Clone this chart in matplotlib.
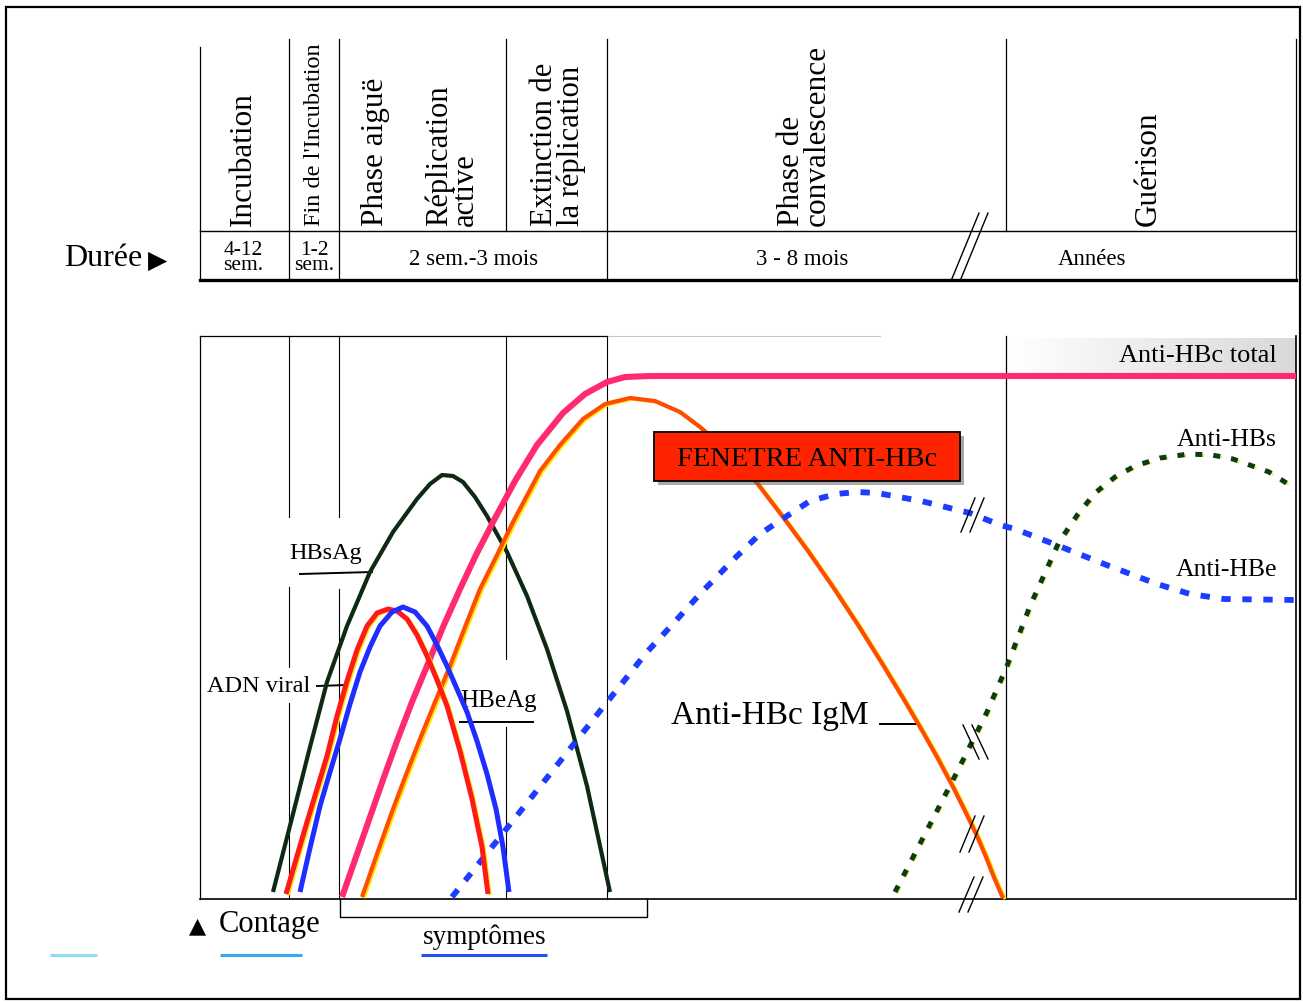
import matplotlib
matplotlib.use("Agg")
import numpy as np
import matplotlib.pyplot as plt
import matplotlib.patheffects as pe
from matplotlib.patches import Rectangle
from matplotlib.colors import LinearSegmentedColormap

plt.rcParams['font.family'] = ['Liberation Serif', 'DejaVu Sans']

# diagram units = position on the original schematic (x: time, y: level from top)
# column borders of the phases
phase_edges = [200, 289, 339, 506, 607, 1006, 1296]

# phase names (rotated headers) and their centres
phase_names = ["Incubation", "Fin de l'Incubation", "Phase aiguë",
               "Réplication\nactive", "Extinction de\nla réplication",
               "Phase de\nconvalescence", "Guérison"]
phase_centres = [243, 315, 376, 452, 558, 804, 1148]
phase_sizes = [22.5, 17.5, 22.5, 22, 22, 22.5, 22.5]

# durations row
duree_labels = ["4-12\nsem.", "1-2\nsem.", "2 sem.-3 mois", "3 - 8 mois", "Années"]
duree_centres = [243, 314, 474, 802, 1092]

hbsag_x = [273, 293, 310, 327, 347, 370, 393, 417, 430, 442, 453, 463, 475, 487, 507, 527,
           547, 567, 587, 610]
hbsag_y = [893, 815, 748, 683, 627, 573, 533, 500, 485, 476, 477, 483, 498, 517, 553, 597,
           650, 712, 787, 893]

adn_x = [286, 297, 307, 317, 327, 337, 347, 357, 367, 377, 388, 397, 407, 417, 427, 437,
         447, 460, 472, 482, 488]
adn_y = [895, 857, 823, 790, 757, 717, 682, 651, 627, 614, 610, 612, 620, 636, 657, 681,
         707, 752, 800, 848, 895]

hbeag_x = [300, 310, 320, 330, 340, 350, 360, 370, 380, 392, 403, 415, 427, 437, 447, 457,
           467, 477, 487, 496, 503, 509]
hbeag_y = [893, 849, 807, 773, 740, 705, 673, 648, 627, 613, 608, 613, 627, 646, 667, 690,
           713, 742, 775, 810, 848, 893]

total_x = [342, 356, 370, 384, 397, 412, 427, 443, 460, 476, 493, 515, 537, 563, 585, 607,
           625, 650, 1296]
total_y = [898, 858, 818, 778, 742, 703, 667, 628, 590, 556, 523, 482, 446, 414, 395, 383,
           378, 377, 377]

igm_x = [362, 378, 393, 407, 420, 435, 450, 465, 480, 497, 513, 540, 560, 583, 605, 630,
         655, 680, 700, 730, 757, 783, 808, 833, 858, 883, 903, 920, 937, 953, 966, 977,
         986, 993, 999, 1003]
igm_y = [898, 852, 810, 773, 740, 703, 667, 628, 590, 556, 523, 472, 446, 420, 405, 399,
         402, 413, 428, 454, 484, 518, 552, 588, 626, 666, 699, 728, 758, 788, 814, 837,
         858, 876, 890, 899]

antihbe_x = [452, 500, 550, 600, 647, 671, 700, 734, 760, 787, 810, 836, 857, 877, 921, 970,
             1000, 1015, 1059, 1104, 1157, 1190, 1224, 1296]
antihbe_y = [898, 838, 775, 712, 653, 627, 595, 560, 535, 517, 502, 495, 493, 494, 502, 514,
             526, 530, 547, 565, 585, 595, 600, 601]

antihbs_x = [895, 925, 957, 987, 1007, 1030, 1059, 1078, 1095, 1115, 1135, 1160, 1189,
             1212, 1233, 1269, 1296]
antihbs_y = [893, 835, 773, 713, 667, 607, 543, 515, 494, 478, 467, 459, 455, 456, 460,
             473, 490]

fig = plt.figure(figsize=(13.03, 10.03), dpi=100)
ax = fig.add_axes([0, 0, 1, 1])
ax.set_xlim(0, 1303)
ax.set_ylim(1003, 0)
ax.axis('off')

k = 'black'
# outer frame
ax.add_patch(Rectangle((6, 8), 1294, 992, fill=False, ec=k, lw=1.6))

# ---- header ----
for x in phase_edges:
    top = 48 if x == 200 else 40
    bottom = 232 if x in (506, 1006) else 281
    ax.plot([x, x], [top, bottom], color=k, lw=0.9)
ax.plot([200, 1296], [232, 232], color=k, lw=1.0)
ax.plot([200, 1296], [281, 281], color=k, lw=2.4)

for name, xc, fs in zip(phase_names, phase_centres, phase_sizes):
    ax.text(xc, 226, name, rotation=90, ha='center', va='bottom', fontsize=fs,
            multialignment='left', linespacing=0.85)

for lab, xc in zip(duree_labels, duree_centres):
    two = '\n' in lab
    ax.text(xc, 258 if two else 259, lab, ha='center', va='center',
            fontsize=15.5 if two else 16.5, linespacing=0.72)

ax.text(64, 258, "Durée", ha='left', va='center', fontsize=23)
ax.text(148, 261, "▶", ha='left', va='center', fontsize=18, family='DejaVu Sans')

# break marks in header
for dx in (0, 9):
    ax.plot([951 + dx, 979 + dx], [282, 214], color=k, lw=1.0)

# ---- lower panel ----
ax.plot([200, 607], [337, 337], color=k, lw=0.9)
ax.plot([607, 880], [337, 337], color='#c8c8c8', lw=0.8)
ax.plot([200, 1296], [900, 900], color=k, lw=1.2)
ax.plot([200, 200], [337, 900], color=k, lw=0.9)
ax.plot([1296, 1296], [337, 900], color=k, lw=1.2)
# inner phase borders, with gaps where labels sit
ax.plot([289, 289], [337, 518], color=k, lw=0.8)
ax.plot([289, 289], [588, 668], color=k, lw=0.8)
ax.plot([289, 289], [704, 900], color=k, lw=0.8)
ax.plot([339, 339], [337, 518], color=k, lw=0.8)
ax.plot([339, 339], [590, 900], color=k, lw=0.8)
ax.plot([506, 506], [337, 660], color=k, lw=0.8)
ax.plot([506, 506], [728, 900], color=k, lw=0.8)
ax.plot([607, 607], [337, 900], color=k, lw=0.8)
ax.plot([1006, 1006], [337, 900], color=k, lw=0.9)

# grey band behind "Anti-HBc total"
grey = LinearSegmentedColormap.from_list('g', ['#ffffff', '#d9d9d9'])
ax.imshow(np.linspace(0, 1, 64)[None, :], extent=(1008, 1296, 374, 339),
          cmap=grey, aspect='auto', zorder=0.5)
ax.set_xlim(0, 1303)
ax.set_ylim(1003, 0)

yellow_edge = [pe.Stroke(linewidth=2.2, foreground='#ffe600', offset=(1.6, -0.8)), pe.Normal()]
curve = dict(solid_capstyle='butt', solid_joinstyle='round')

ax.plot(hbsag_x, hbsag_y, color='#0f2a14', lw=3.0, zorder=3, **curve)
ax.plot(total_x, total_y, color='#ff2b6e', lw=4.4, zorder=3, **curve)
ax.plot(igm_x, igm_y, color='#ff4d00', lw=3.0, zorder=3, path_effects=yellow_edge, **curve)
ax.plot(adn_x, adn_y, color='#ff1a1a', lw=3.6, zorder=4, path_effects=yellow_edge, **curve)
ax.plot(hbeag_x, hbeag_y, color='#1f2dff', lw=3.6, zorder=4, **curve)
ax.plot(antihbe_x, antihbe_y, color='#1c3cff', lw=4.2, dashes=(1.6, 2.0),
        dash_capstyle='butt', zorder=3)
ax.plot(antihbs_x, antihbs_y, color='#0d3b12', lw=3.6, dashes=(1.4, 2.2),
        dash_capstyle='butt', zorder=3,
        path_effects=[pe.Stroke(linewidth=2, foreground='#e8f060', offset=(1.4, -0.8)),
                      pe.Normal()])

# break marks in the panel
breaks = [((961, 533), (975, 499)), ((960, 853), (975, 817)), ((959, 913), (974, 878))]
for (x0, y0), (x1, y1) in breaks:
    for dx in (0, 9):
        ax.plot([x0 + dx, x1 + dx], [y0, y1], color=k, lw=1.0, zorder=5)
for dx in (0, 9):
    ax.plot([963 + dx, 979 + dx], [726, 760], color=k, lw=1.0, zorder=5)

# labels and leader lines
ax.text(289, 553, "HBsAg", ha='left', va='center', fontsize=17.5)
ax.plot([300, 372], [575, 573], color=k, lw=1.4)
ax.text(207, 686, "ADN viral", ha='left', va='center', fontsize=17.5)
ax.plot([317, 347], [687, 686], color=k, lw=1.4)
ax.text(460, 701, "HBeAg", ha='left', va='center', fontsize=18)
ax.plot([460, 533], [723, 723], color=k, lw=1.4)
ax.text(671, 716, "Anti-HBc IgM", ha='left', va='center', fontsize=24)
ax.plot([880, 918], [725, 725], color=k, lw=1.4)

ax.text(1277, 356, "Anti-HBc total", ha='right', va='center', fontsize=19, zorder=2)
ax.text(1277, 440, "Anti-HBs", ha='right', va='center', fontsize=18.5, zorder=5)
ax.text(1277, 570, "Anti-HBe", ha='right', va='center', fontsize=18.5, zorder=5)

box = Rectangle((654, 433), 306, 49, fc='#ff2400', ec=k, lw=1.3, zorder=6,
                path_effects=[pe.withSimplePatchShadow(offset=(3, -3), shadow_rgbFace='#555555',
                                                       alpha=0.5)])
ax.add_patch(box)
ax.text(807, 459, "FENETRE ANTI-HBc", ha='center', va='center', fontsize=20.5, zorder=7)

# symptoms bracket and bottom labels
ax.plot([340, 340, 647, 647], [900, 918, 918, 900], color=k, lw=1.0)
ax.text(189, 926, "▲", ha='left', va='center', fontsize=16, family='DejaVu Sans')
ax.text(219, 925, "Contage", ha='left', va='center', fontsize=22)
ax.text(485, 937, "symptômes", ha='center', va='center', fontsize=19.5)
for (x0, x1), c in zip([(50, 97), (220, 302), (421, 547)], ['#8fdcf7', '#35aaf5', '#2255ee']):
    ax.plot([x0, x1], [956, 956], color=c, lw=2.2, solid_capstyle='butt')

fig.savefig('out.png', dpi=100)
